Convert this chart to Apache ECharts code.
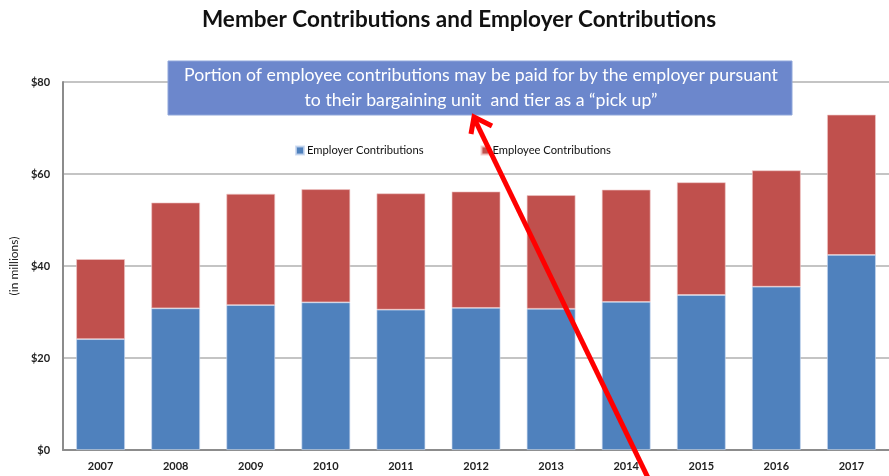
<!DOCTYPE html>
<html>
<head>
<meta charset="utf-8">
<script src="https://cdn.jsdelivr.net/npm/echarts@6/dist/echarts.min.js"></script>
<style>
  html, body { margin: 0; padding: 0; background: #fff; }
  #chart { width: 889px; height: 476px; }
</style>
</head>
<body>
<div id="chart"></div>
<script>
// Contribution totals by year, in millions of dollars
const years = ['2007', '2008', '2009', '2010', '2011', '2012', '2013', '2014', '2015', '2016', '2017'];
const employerContributions = [24.1, 30.8, 31.5, 32.1, 30.5, 30.9, 30.7, 32.2, 33.7, 35.5, 42.4];
const employeeContributions = [17.4, 23.0, 24.2, 24.6, 25.3, 25.3, 24.7, 24.4, 24.5, 25.3, 30.5];
const yTicks = [0, 20, 40, 60, 80];

const noteText = 'Portion of employee contributions may be paid for by the employer pursuant\nto their bargaining unit  and tier as a \u201cpick up\u201d';

const font = 'Lato, "Open Sans", sans-serif';
const chart = echarts.init(document.getElementById('chart'));

chart.setOption({
  animation: false,
  backgroundColor: '#ffffff',
  title: {
    text: 'Member Contributions and Employer Contributions',
    left: 454,
    textAlign: 'center',
    top: 3,
    textStyle: { fontFamily: font, fontSize: 22.5, fontWeight: 'bold', color: '#111' }
  },
  legend: {
    left: 290,
    top: 140,
    itemWidth: 8,
    itemHeight: 8,
    itemGap: 57,
    icon: 'rect',
    textStyle: { fontFamily: font, fontSize: 11.2, color: '#111', padding: [0, 0, 0, -2] },
    data: ['Employer Contributions', 'Employee Contributions']
  },
  grid: { left: 61, right: -12, top: 82, bottom: 26 },
  xAxis: {
    type: 'category',
    data: years,
    axisLine: { lineStyle: { color: '#8c8c8c', width: 2 } },
    axisTick: { show: false },
    axisLabel: { fontFamily: font, fontSize: 11, fontWeight: 'bold', color: '#222', margin: 11 }
  },
  yAxis: {
    type: 'value',
    min: yTicks[0],
    max: yTicks[yTicks.length - 1],
    interval: yTicks[1] - yTicks[0],
    name: '(in millions)',
    nameLocation: 'middle',
    nameGap: 38,
    nameRotate: 90,
    nameTextStyle: { fontFamily: font, fontSize: 12, color: '#222' },
    axisLine: { show: true, lineStyle: { color: '#8c8c8c', width: 2 } },
    axisTick: { show: false },
    axisLabel: { fontFamily: font, fontSize: 11, fontWeight: 'bold', color: '#222', margin: 13, formatter: v => '$' + v },
    splitLine: { lineStyle: { color: '#c4c4c4', width: 2 } }
  },
  series: [
    {
      name: 'Employer Contributions',
      type: 'bar',
      stack: 'total',
      data: employerContributions,
      barCategoryGap: '35%',
      itemStyle: { color: '#4F81BD', borderColor: 'rgba(200,215,240,0.8)', borderWidth: 0.8 }
    },
    {
      name: 'Employee Contributions',
      type: 'bar',
      stack: 'total',
      data: employeeContributions,
      barCategoryGap: '35%',
      itemStyle: { color: '#C0504D', borderColor: 'rgba(240,200,200,0.8)', borderWidth: 0.8 }
    }
  ],
  graphic: [
    {
      type: 'rect',
      zlevel: 1,
      shape: { x: 168, y: 61, width: 624, height: 54 },
      style: { fill: '#6C87CC', stroke: '#8FA6DA', lineWidth: 1 }
    },
    {
      type: 'text',
      zlevel: 1,
      z: 10,
      x: 481,
      y: 88,
      style: {
        text: noteText,
        fill: '#ffffff',
        font: '17.7px ' + font,
        align: 'center',
        verticalAlign: 'middle',
        lineHeight: 25
      }
    },
    // red pointer arrow reaching up to the note
    {
      type: 'line',
      zlevel: 1,
      z: 20,
      shape: { x1: 650, y1: 482, x2: 474, y2: 118 },
      style: { stroke: '#FF0000', lineWidth: 5 }
    },
    {
      type: 'polyline',
      zlevel: 1,
      z: 20,
      shape: { points: [[471, 134], [474, 117], [492, 126]] },
      style: { stroke: '#FF0000', lineWidth: 5, fill: null, lineJoin: 'miter' }
    }
  ]
});
</script>
</body>
</html>
